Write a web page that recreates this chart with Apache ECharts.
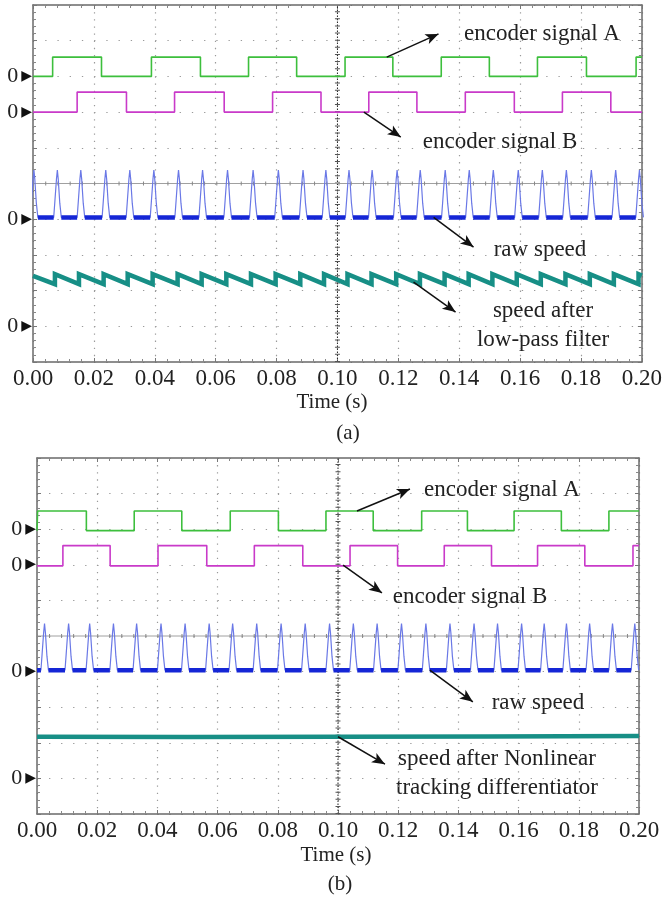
<!DOCTYPE html>
<html><head><meta charset="utf-8">
<script src="https://cdn.jsdelivr.net/npm/echarts@6/dist/echarts.min.js"></script>
<style>html,body{margin:0;padding:0;background:#fff}#c{width:665px;height:899px}</style>
</head><body><div id="c"></div><script>
// ---------- axis data ----------
const T_MIN = 0, T_MAX = 0.2, T_STEP = 0.02;
const DIV_MIN = 0, DIV_MAX = 10;
const CENTER_T = 0.1, CENTER_V = 5;
const xTickLabels = ['0.00','0.02','0.04','0.06','0.08','0.10','0.12','0.14','0.16','0.18','0.20'];
const zeroLevels = [8, 7, 4, 1];   // "0 ▶" reference markers (divisions)

// raw-speed pulse profile (time offset s, fraction of height)
const pulseOffsets = [-0.0012, -0.0008, -0.0003, 0, 0.0003, 0.0008, 0.0013];
const pulseFractions = [0, 0.35, 0.8, 1, 0.8, 0.3, 0];

// ---------- panel (a) ----------
const aSignalALevels = [8.0, 8.54];   // low, high
const aSignalAStartHigh = false;
const aSignalAEdges = [0.00645, 0.0225, 0.0389, 0.055, 0.0708, 0.0866, 0.1025, 0.1182, 0.1341, 0.1499, 0.1657, 0.1818, 0.1981];
const aSignalBLevels = [7.0, 7.56];
const aSignalBStartHigh = false;
const aSignalBEdges = [0.0145, 0.0307, 0.0465, 0.0628, 0.0787, 0.0946, 0.1103, 0.1261, 0.142, 0.1581, 0.1739, 0.1898];
const aRawLevels = [4.05, 5.38];      // baseline, peak
const aRawPeaks = [0.0003, 0.008, 0.0157, 0.0239, 0.0318, 0.0397, 0.0478, 0.0557, 0.0639, 0.0723, 0.0806, 0.0887, 0.0962, 0.1038, 0.1114, 0.1196, 0.1272, 0.1354, 0.1433, 0.1512, 0.1594, 0.1673, 0.1752, 0.1834, 0.1914, 0.1992];
const aFiltStart = 2.41;
const aFiltLevels = [2.18, 2.46];     // before jump, after jump
const aFiltJumps = [0.0072, 0.0151, 0.0232, 0.0311, 0.0393, 0.0475, 0.0554, 0.0635, 0.0716, 0.0797, 0.0878, 0.0956, 0.1033, 0.1112, 0.1193, 0.1271, 0.1352, 0.1431, 0.1509, 0.1589, 0.1668, 0.1749, 0.1829, 0.1908, 0.1989];

// ---------- panel (b) ----------
const bSignalALevels = [7.96, 8.51];
const bSignalAStartHigh = false;
const bSignalAEdges = [0.0002, 0.0164, 0.0323, 0.0481, 0.0642, 0.0802, 0.096, 0.1117, 0.1278, 0.143, 0.1585, 0.1742, 0.19];
const bSignalBLevels = [6.97, 7.54];
const bSignalBStartHigh = false;
const bSignalBEdges = [0.0086, 0.0243, 0.0402, 0.0564, 0.0722, 0.0883, 0.104, 0.1198, 0.1353, 0.151, 0.1663, 0.182, 0.198];
const bRawLevels = [4.04, 5.35];
const bRawPeaks = [0.0025, 0.0105, 0.0175, 0.0254, 0.0331, 0.0412, 0.0492, 0.0572, 0.065, 0.073, 0.0811, 0.0891, 0.0972, 0.1051, 0.113, 0.1211, 0.1292, 0.1372, 0.1452, 0.153, 0.161, 0.1685, 0.1759, 0.1836, 0.1912, 0.1986];
const bFiltTimes = [0, 0.05, 0.1, 0.15, 0.2];
const bFiltValues = [2.17, 2.16, 2.17, 2.18, 2.19];

// ---------- builders ----------
function squareWave(edges, levels, startHigh) {
  let hi = startHigh;
  const lv = () => hi ? levels[1] : levels[0];
  const pts = [[T_MIN, lv()]];
  edges.forEach(t => { pts.push([t, lv()]); hi = !hi; pts.push([t, lv()]); });
  pts.push([T_MAX, lv()]);
  return pts;
}
function pulseTrain(peaks, levels) {
  const pts = [];
  peaks.forEach(p => pulseOffsets.forEach((o, i) => pts.push([p + o, levels[0] + pulseFractions[i] * (levels[1] - levels[0])])));
  if (pts[0][0] > T_MIN) pts.unshift([T_MIN, levels[0]]);
  if (pts[pts.length - 1][0] < T_MAX) pts.push([T_MAX, levels[0]]);
  return pts;
}
function baseSegments(peaks, levels) {
  const s0 = pulseOffsets[0], s1 = pulseOffsets[pulseOffsets.length - 1];
  const pts = [];
  let start = T_MIN;
  peaks.forEach(p => {
    const end = p + s0;
    if (end > start) { pts.push([start, levels[0]], [end, levels[0]], [end, '-']); }
    start = p + s1;
  });
  if (start < T_MAX) pts.push([start, levels[0]], [T_MAX, levels[0]]);
  return pts;
}
function sawtooth(jumps, levels, startVal) {
  const pts = [[T_MIN, startVal]];
  jumps.forEach(t => { pts.push([t, levels[0]], [t, levels[1]]); });
  pts.push([T_MAX, levels[1] - (levels[1] - levels[0]) * ((T_MAX - jumps[jumps.length - 1]) / (jumps[1] - jumps[0]))]);
  return pts;
}

// ---------- layout ----------
const grids = [
  {left: 33, top: 5, width: 611, height: 357},
  {left: 37, top: 458, width: 602, height: 356}
];
const SERIF = 'Liberation Serif';
const C_A = '#3dbf3d', C_B = '#c93ac9', C_RAW_THIN = '#6a78e6', C_RAW = '#1526d6', C_FILT = '#178f86';

const panels = [
  {A: squareWave(aSignalAEdges, aSignalALevels, aSignalAStartHigh),
   B: squareWave(aSignalBEdges, aSignalBLevels, aSignalBStartHigh),
   raw: pulseTrain(aRawPeaks, aRawLevels), base: baseSegments(aRawPeaks, aRawLevels),
   filt: sawtooth(aFiltJumps, aFiltLevels, aFiltStart),
   arrows: [
     [[0.1162, 8.54], [0.1332, 9.19]],
     [[0.1087, 7.0], [0.1208, 6.30]],
     [[0.1316, 4.05], [0.1447, 3.22]],
     [[0.125, 2.24], [0.1388, 1.40]]
   ]},
  {A: squareWave(bSignalAEdges, bSignalALevels, bSignalAStartHigh),
   B: squareWave(bSignalBEdges, bSignalBLevels, bSignalBStartHigh),
   raw: pulseTrain(bRawPeaks, bRawLevels), base: baseSegments(bRawPeaks, bRawLevels),
   filt: bFiltTimes.map((t, i) => [t, bFiltValues[i]]),
   arrows: [
     [[0.1063, 8.51], [0.1239, 9.13]],
     [[0.1017, 6.99], [0.1146, 6.21]],
     [[0.1305, 4.04], [0.1448, 3.15]],
     [[0.1, 2.17], [0.1156, 1.40]]
   ]}
];

const texts = [
  {t: 'encoder signal A', x: 542, y: 34},
  {t: 'encoder signal B', x: 500, y: 142},
  {t: 'raw speed', x: 540, y: 250},
  {t: 'speed after', x: 543, y: 311},
  {t: 'low-pass filter', x: 543, y: 340},
  {t: 'Time (s)', x: 332, y: 402, s: 21},
  {t: '(a)', x: 348, y: 433, s: 21},
  {t: 'encoder signal A', x: 502, y: 490},
  {t: 'encoder signal B', x: 470, y: 597},
  {t: 'raw speed', x: 538, y: 703},
  {t: 'speed after Nonlinear', x: 497, y: 759},
  {t: 'tracking differentiator', x: 497, y: 788},
  {t: 'Time (s)', x: 336, y: 855, s: 21},
  {t: '(b)', x: 340, y: 884, s: 21}
];

const xAxes = [], yAxes = [], series = [];
grids.forEach((g, gi) => {
  const minorX = g.width / 50, minorY = g.height / 50;
  xAxes.push({
    gridIndex: gi, type: 'value', min: T_MIN, max: T_MAX, interval: T_STEP, position: 'bottom',
    axisLine: {show: true, onZero: false, lineStyle: {color: '#6a6a6a', width: 1.5}},
    axisTick: {show: true, inside: true, length: 4, lineStyle: {color: '#777'}},
    minorTick: {show: true, splitNumber: 5, length: 3, lineStyle: {color: '#888'}},
    axisLabel: {margin: 5, fontFamily: SERIF, fontSize: 23, color: '#222',
      formatter: v => xTickLabels[Math.round((v - T_MIN) / T_STEP)] || ''},
    splitLine: {show: true, lineStyle: {color: '#9a9a9a', width: 1.2, type: [1.3, minorY - 1.3]}}
  });
  xAxes.push({
    gridIndex: gi, type: 'value', min: T_MIN, max: T_MAX, interval: T_STEP, position: 'top',
    axisLine: {show: true, onZero: false, lineStyle: {color: '#6a6a6a', width: 1.5}},
    axisTick: {show: true, inside: true, length: 4, lineStyle: {color: '#777'}},
    minorTick: {show: true, splitNumber: 5, length: 3, lineStyle: {color: '#888'}},
    axisLabel: {show: false}, splitLine: {show: false}
  });
  yAxes.push({
    gridIndex: gi, type: 'value', min: DIV_MIN, max: DIV_MAX, interval: 1, position: 'left',
    axisLine: {show: true, onZero: false, lineStyle: {color: '#6a6a6a', width: 1.5}},
    axisTick: {show: true, inside: true, length: 4, lineStyle: {color: '#777'}},
    minorTick: {show: true, splitNumber: 5, length: 3, lineStyle: {color: '#888'}},
    axisLabel: {show: true, margin: 1, formatter: v => zeroLevels.includes(v) ? '{z|0}{t|▶}' : '',
      rich: {z: {fontFamily: SERIF, fontSize: 22, color: '#222', padding: [0, 3, 0, 0]},
             t: {fontFamily: 'DejaVu Sans', fontSize: 14, color: '#111'}}},
    splitLine: {show: true, lineStyle: {color: '#9a9a9a', width: 1.2, type: [1.3, minorX - 1.3]}}
  });
  yAxes.push({
    gridIndex: gi, type: 'value', min: DIV_MIN, max: DIV_MAX, interval: 1, position: 'right',
    axisLine: {show: true, onZero: false, lineStyle: {color: '#6a6a6a', width: 1.5}},
    axisTick: {show: true, inside: true, length: 4, lineStyle: {color: '#777'}},
    minorTick: {show: true, splitNumber: 5, length: 3, lineStyle: {color: '#888'}},
    axisLabel: {show: false}, splitLine: {show: false}
  });
  const xi = gi * 2, yi = gi * 2;
  const P = panels[gi];
  const base = {type: 'line', xAxisIndex: xi, yAxisIndex: yi, showSymbol: false, symbol: 'none',
    animation: false, silent: true, clip: true};
  // center graticule lines with tick marks
  series.push(Object.assign({}, base, {z: 1, data: [[CENTER_T, DIV_MIN], [CENTER_T, DIV_MAX]],
    lineStyle: {color: '#222', width: 1, type: [1.5, 1.5]}}));
  series.push(Object.assign({}, base, {z: 1, data: [[CENTER_T, DIV_MIN], [CENTER_T, DIV_MAX]],
    lineStyle: {color: '#555', width: 5, type: [1, minorY - 1]}}));
  series.push(Object.assign({}, base, {z: 1, data: [[T_MIN, CENTER_V], [T_MAX, CENTER_V]],
    lineStyle: {color: '#a0a0a0', width: 1}}));
  series.push(Object.assign({}, base, {z: 1, data: [[T_MIN, CENTER_V], [T_MAX, CENTER_V]],
    lineStyle: {color: '#888', width: 4, type: [1, minorX - 1]}}));
  // traces
  series.push(Object.assign({}, base, {data: P.A, lineStyle: {color: C_A, width: 1.6}}));
  series.push(Object.assign({}, base, {data: P.B, lineStyle: {color: C_B, width: 1.6}}));
  series.push(Object.assign({}, base, {data: P.raw, lineStyle: {color: C_RAW_THIN, width: 1.2}}));
  series.push(Object.assign({}, base, {data: P.base, connectNulls: false, lineStyle: {color: C_RAW, width: 4.5}}));
  series.push(Object.assign({}, base, {data: P.filt, lineStyle: {color: C_FILT, width: 4.5, join: 'miter'},
    markLine: {silent: true, animation: false, symbol: ['none', 'arrow'], symbolSize: [8, 13],
      label: {show: false}, emphasis: {disabled: true},
      lineStyle: {color: '#111', width: 1.5, type: 'solid'},
      data: P.arrows.map(a => [{coord: a[0]}, {coord: a[1]}])}}));
});

const chart = echarts.init(document.getElementById('c'), null, {renderer: 'canvas'});
chart.setOption({
  backgroundColor: '#fff',
  animation: false,
  grid: grids.map(g => Object.assign({containLabel: false}, g)),
  xAxis: xAxes,
  yAxis: yAxes,
  series: series,
  graphic: texts.map(t => ({type: 'text', x: t.x, y: t.y, silent: true,
    style: {text: t.t, fontFamily: SERIF, fontSize: t.s || 23, fill: '#222', align: 'center', verticalAlign: 'middle'}}))
});
</script></body></html>
